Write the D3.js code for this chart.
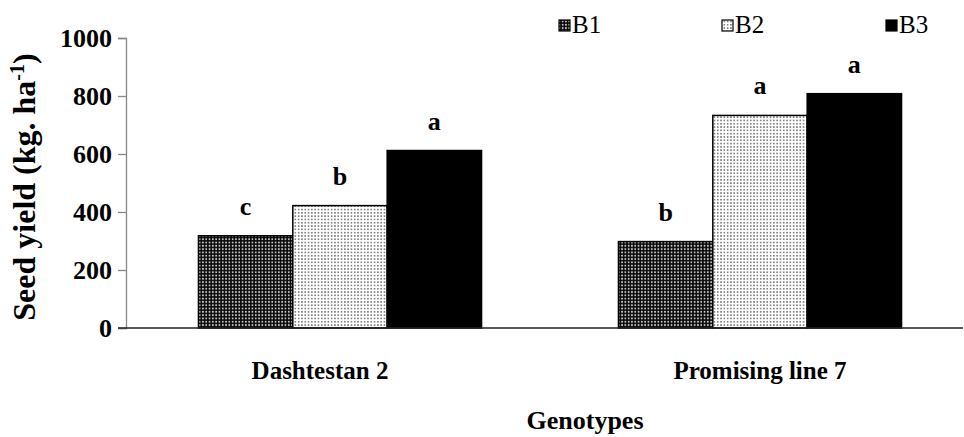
<!DOCTYPE html>
<html><head><meta charset="utf-8">
<script src="https://cdn.jsdelivr.net/npm/d3@7/dist/d3.min.js"></script>
<style>body{margin:0;background:#fff}svg{display:block}</style>
</head><body><svg id="c" width="964" height="437"></svg>
<script>
const categories = ["Dashtestan 2", "Promising line 7"];
const seriesNames = ["B1", "B2", "B3"];
const B1 = [318, 298];
const B2 = [422, 733];
const B3 = [612, 808];
const letterB1 = ["c", "b"];
const letterB2 = ["b", "a"];
const letterB3 = ["a", "a"];
const yTicks = [0, 200, 400, 600, 800, 1000];

const FONT = "'Liberation Serif', 'Times New Roman', Tinos, Times";
const values = [B1, B2, B3];
const letters = [letterB1, letterB2, letterB3];
const svg = d3.select("#c");
const defs = svg.append("defs");
const p1 = defs.append("pattern").attr("id","p1").attr("patternUnits","userSpaceOnUse").attr("width",3.3).attr("height",3.3);
p1.append("rect").attr("width",3.3).attr("height",3.3).attr("fill","#0a0a0a");
p1.append("circle").attr("cx",1.65).attr("cy",1.65).attr("r",0.95).attr("fill","#d0d0d0");
const p2 = defs.append("pattern").attr("id","p2").attr("patternUnits","userSpaceOnUse").attr("width",3.3).attr("height",3.3);
p2.append("rect").attr("width",3.3).attr("height",3.3).attr("fill","#fff");
p2.append("circle").attr("cx",1.65).attr("cy",1.65).attr("r",0.85).attr("fill","#5a5a5a");
const fills = ["url(#p1)", "url(#p2)", "#000"];

const y = d3.scaleLinear().domain([0,1000]).range([328, 38]);
const x0 = d3.scaleBand().domain(categories).range([130, 970]).paddingInner(0.326).paddingOuter(0.163);
const x1 = d3.scaleBand().domain(seriesNames).range([0, x0.bandwidth()]);

const yAxis = svg.append("g").attr("transform","translate(126,0)")
  .call(d3.axisLeft(y).tickValues(yTicks).tickSize(8).tickPadding(6).tickFormat(d3.format("d")));
yAxis.select(".domain").attr("stroke","#888").attr("stroke-width",1.3);
yAxis.selectAll(".tick line").attr("stroke","#888").attr("stroke-width",1.3);
yAxis.selectAll(".tick text").style("font-family", FONT).style("font-size","26px").style("font-weight","bold")
  .attr("fill","#000").attr("dy","0.34em");

seriesNames.forEach((s, si) => {
  const g = svg.append("g");
  g.selectAll("rect").data(categories).join("rect")
    .attr("x", c => x0(c) + x1(s))
    .attr("y", (c, i) => y(values[si][i]))
    .attr("width", x1.bandwidth())
    .attr("height", (c, i) => y(0) - y(values[si][i]))
    .attr("fill", fills[si])
    .attr("stroke", "#000").attr("stroke-width", 1.5);
  g.selectAll("text").data(categories).join("text")
    .attr("x", c => x0(c) + x1(s) + x1.bandwidth()/2)
    .attr("y", (c, i) => y(values[si][i]) - 21)
    .attr("text-anchor","middle").style("font-family", FONT).style("font-size","26px").style("font-weight","bold")
    .text((c, i) => letters[si][i]);
});

svg.append("line").attr("x1",118).attr("x2",963).attr("y1",328).attr("y2",328).attr("stroke","#222").attr("stroke-width",1.5);

const catShift = [-20, 0];
svg.selectAll(".cat").data(categories).join("text").attr("class","cat")
  .attr("x", (c, i) => x0(c) + x0.bandwidth()/2 + catShift[i])
  .attr("y", 379).attr("text-anchor","middle").style("font-family", FONT).style("font-size","25px").style("font-weight","bold").text(c => c);

svg.append("text").attr("x",585).attr("y",429).attr("text-anchor","middle")
  .style("font-family", FONT).style("font-size","26px").style("font-weight","bold").text("Genotypes");
const yt = svg.append("text").attr("transform","translate(35,187) rotate(-90)").attr("text-anchor","middle")
  .style("font-family", FONT).style("font-size","32px").style("font-weight","bold");
yt.append("tspan").text("Seed yield (kg. ha");
yt.append("tspan").attr("baseline-shift","super").style("font-size","20px").text("-1");
yt.append("tspan").text(")");

const legX = [559, 722, 886];
seriesNames.forEach((s, i) => {
  svg.append("rect").attr("x", legX[i]).attr("y", 20).attr("width", 11).attr("height", 11)
    .attr("fill", fills[i]).attr("stroke","#000").attr("stroke-width",1.2);
  svg.append("text").attr("x", legX[i] + 13).attr("y", 33).style("font-family", FONT).style("font-size","25px").text(s);
});
</script></body></html>
